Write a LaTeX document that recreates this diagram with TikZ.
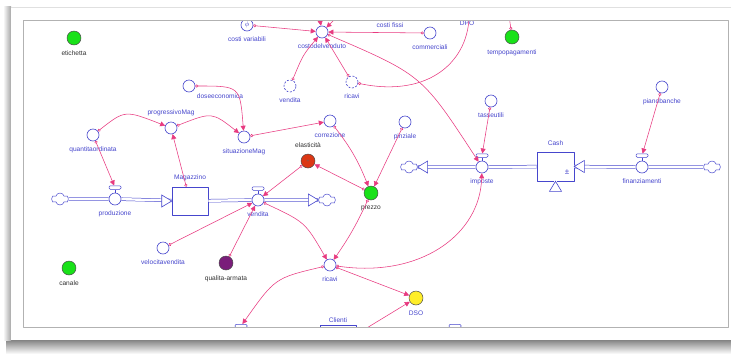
\documentclass[tikz,border=0pt]{standalone}
\usepackage{fontspec}
\setmainfont{Liberation Sans}
\usetikzlibrary{arrows.meta,shapes.symbols,calc}
\definecolor{vblue}{RGB}{70,70,205}
\definecolor{lpink}{RGB}{232,58,128}
\definecolor{vgreen}{RGB}{25,225,25}
\definecolor{vred}{RGB}{220,55,20}
\definecolor{vpurple}{RGB}{122,30,122}
\definecolor{vyellow}{RGB}{255,238,40}
\newcommand{\labfont}{\fontsize{6.6}{7}\selectfont}
\tikzset{
  var/.style={circle,draw=vblue,fill=white,line width=.6pt,minimum size=12pt,inner sep=0pt},
  shadowvar/.style={var,dash pattern=on 2pt off 1.5pt},
  const/.style={circle,draw=black!70,line width=.5pt,minimum size=14pt,inner sep=0pt},
  lab/.style={text=vblue,font=\labfont,inner sep=.5pt},
  blab/.style={lab,text=black!80},
  link/.style={draw=lpink,line width=.55pt,arrows={Circle[open,length=3pt,width=3pt]-Triangle[length=5pt,width=5pt]}},
  flow/.style={draw=vblue,line width=.5pt,double=white,double distance=2.4pt},
  fhead/.style={draw=vblue,fill=white,line width=.6pt,line join=miter},
  valvebar/.style={rectangle,draw=vblue,fill=white,line width=.5pt,rounded corners=1.2pt,minimum width=12pt,minimum height=3.5pt,inner sep=0pt},
  stock/.style={rectangle,draw=vblue,fill=white,line width=.6pt,inner sep=0pt},
  sink/.style={cloud,cloud puffs=6,aspect=1.4,draw=vblue,fill=white,line width=.5pt,minimum width=17pt,minimum height=12pt,inner sep=0pt},
}
\begin{document}
\begin{tikzpicture}[x=1pt,y=1pt,line join=round,label distance=5pt]
\useasboundingbox (0,0) rectangle (731,-354);
% frame and shadow
\shade[top color=black!55,bottom color=white] (6,-338) rectangle (731,-354);
\shade[left color=white,right color=black!35] (3,-6) rectangle (11,-340);
\fill[white] (11,-7) rectangle (731,-340);
\draw[black!12] (11,-7) -- (731,-7);
\begin{scope}
\clip (23,-20) rectangle (728,-327);
% constants and auxiliaries
\node[const,fill=vgreen,label={[blab]below:etichetta}] (etich) at (74,-38) {};
\node[const,fill=vgreen,label={[blab]below:canale}] (canale) at (69,-268) {};
\node[const,fill=vgreen,label={[lab]below:tempopagamenti}] (tp) at (512,-37) {};
\node[var,label={[lab]below:costi variabili}] (cvar) at (247,-25) {\color{vblue}\fontsize{7}{7}\selectfont$\phi$};
\node[var,label={[lab]below:costodelvenduto}] (cdv) at (322,-32) {};
\node[var,label={[lab]below:commerciali}] (comm) at (430,-33) {};
\node[lab] (cfissi) at (390,-25) {costi fissi};
\node[lab] (dpoL) at (467,-23) {DPO};
\node[shadowvar,label={[lab]below:vendita}] (vendS) at (290,-86) {};
\node[shadowvar,label={[lab]below:ricavi}] (ricS) at (352,-82) {};
\node[var] (dosi) at (189,-86) {};
\node[lab] (dosiL) at (220,-96) {doseeconomica};
\node[var,label={[lab]above:progressivoMag}] (prog) at (171,-128) {};
\node[var,label={[lab]below:quantitaordinata}] (quant) at (93,-135) {};
\node[var,label={[lab]below:situazioneMag}] (sit) at (244,-137) {};
\node[var,label={[lab]below:correzione}] (corr) at (330,-121) {};
\node[var,label={[lab]below:pinziale}] (pin) at (405,-122) {};
\node[const,fill=vred,label={[blab]above:elasticità}] (elast) at (308,-161) {\fontsize{5}{5}\selectfont\color{black!60}+};
\node[const,fill=vgreen,label={[blab]below:prezzo}] (prezzo) at (371,-193) {};
\node[var,label={[lab]below:velocitavendita}] (velo) at (163,-248) {};
\node[const,fill=vpurple,label={[blab]below:qualita-armata}] (qual) at (226,-263) {};
\node[var,label={[lab]below:ricavi}] (ricavi) at (330,-265) {};
\node[const,fill=vyellow,label={[lab]below:DSO}] (dso) at (416,-298) {};
\node[var,label={[lab]below:tasseutili}] (tasse) at (491,-101) {};
\node[var,label={[lab]below:pianobanche}] (piano) at (662,-87) {};
% stocks
\node[stock,minimum width=36pt,minimum height=28pt,label={[lab]above:Magazzino}] (mag) at (190,-201) {};
\node[stock,minimum width=37pt,minimum height=29pt] (cash) at (555.5,-166.5) {};
\node[lab] (cashL) at (555.5,-143) {Cash};
\node[lab,font=\fontsize{8}{8}\selectfont] (pm) at (567,-172) {±};
\node[stock,minimum width=36pt,minimum height=40pt,label={[lab,label distance=2pt]above:Clienti}] (clienti) at (338,-345.5) {};
% valves
\node[var,label={[lab]below:produzione}] (prod) at (115,-199) {};
\node[var,label={[lab]below:vendita}] (vend) at (258,-200) {};
\node[var,label={[lab]below:imposte}] (imp) at (482,-167) {};
\node[var,label={[lab]below:finanziamenti}] (fin) at (642,-167) {};
\node[var] (vL) at (241,-337.5) {};
\node[var] (vR) at (455,-337.5) {};
\foreach \n in {prod,vend,imp,fin,vL,vR}{
  \node[valvebar] (\n T) at ($(\n)+(0,11.5)$) {};
  \draw[vblue,line width=.5pt] (\n.north) -- (\n T.south);
}
% clouds
\node[sink] (cl1) at (60,-199) {};
\node[sink] (cl2) at (327,-200) {};
\node[sink] (cl3) at (409,-167) {};
\node[sink] (cl4) at (712,-167) {};
\coordinate (topA) at (318,-8);
\coordinate (topB) at (346,-8);
\coordinate (dpo) at (469,-8);
\coordinate (tpout) at (508,-8);
\coordinate (vtop) at (555.5,-8);
\coordinate (vbot) at (555.5,-340);
% flows
\draw[flow] (cl1) -- (prod) -- (mag);
\draw[flow] (mag) -- (vend) -- (cl2);
\draw[flow] (cash) -- (imp) -- (cl3);
\draw[flow] (cl4) -- (fin) -- (cash);
\draw[flow] (cashL.north) -- (vtop);
\draw[flow] (vbot) -- (cash);
\draw[fhead] (mag.west) -- ++(-10,6) -- ++(0,-12) -- cycle;
\draw[fhead] (cl2.west) -- ++(-10,6) -- ++(0,-12) -- cycle;
\draw[fhead] (cl3.east) -- ++(10,6) -- ++(0,-12) -- cycle;
\draw[fhead] (cash.east) -- ++(10,6) -- ++(0,-12) -- cycle;
\draw[fhead] (cash.south) -- ++(-6,-10) -- ++(12,0) -- cycle;
% links
\draw[link] (cvar) -- (cdv);
\draw[link] (comm) -- (cdv);
\draw[link] (topA) -- (cdv);
\draw[link] (topB) -- (cdv);
\draw[link] (vendS) .. controls (303,-55) .. (cdv);
\draw[link] (ricS) -- (cdv);
\draw[link] (cdv) .. controls (422,-75) .. (imp);
\draw[link] (ricS) .. controls (430,-98) and (470,-60) .. (dpo);
\draw[link] (tp) -- (tpout);
\draw[link] (quant) .. controls (125,-110) .. (prog);
\draw[link] (prog) .. controls (212,-112) .. (sit);
\draw[link] (dosi) .. controls (240,-86) .. (sit);
\draw[link] (quant) -- (prodT);
\draw[link] (mag) -- (prog);
\draw[link] (sit) -- (corr);
\draw[link] (corr) to[bend left=8] (prezzo);
\draw[link] (pin) -- (prezzo);
\draw[link] (prezzo) -- (elast);
\draw[link] (elast) -- (vend);
\draw[link] (prezzo) to[bend left=5] (ricavi);
\draw[link] (vend) .. controls (305,-222) .. (ricavi);
\draw[link] (velo) -- (vend);
\draw[link] (qual) -- (vend);
\draw[link] (ricavi) -- (dso);
\draw[link] (clienti) -- (dso);
\draw[link] (ricavi) .. controls (275,-278) .. (vLT);
\draw[link] (ricavi) .. controls (420,-278) and (480,-235) .. (imp);
\draw[link] (tasse) -- (impT);
\draw[link] (piano) -- (finT);
\end{scope}
\draw[black!30,line width=.5pt] (23,-20) rectangle (728,-327);
\end{tikzpicture}
\end{document}
